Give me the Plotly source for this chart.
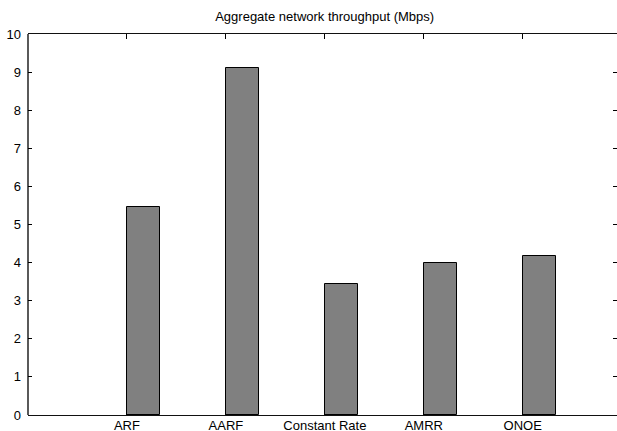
import plotly.graph_objects as go

categories = ["ARF", "AARF", "Constant Rate", "AMRR", "ONOE"]
throughput = [5.47, 9.10, 3.43, 4.00, 4.17]
positions = [1, 2, 3, 4, 5]
y_ticks = [0, 1, 2, 3, 4, 5, 6, 7, 8, 9, 10]

fig = go.Figure()
fig.add_trace(go.Bar(
    x=positions, y=throughput, width=0.337, offset=0,
    marker=dict(color="#808080", line=dict(color="#000000", width=1)),
    showlegend=False,
))

font = dict(family="Liberation Sans, Arial, Helvetica, sans-serif", size=13, color="#000000")

fig.update_layout(
    width=617, height=431,
    margin=dict(l=28, r=0, t=34, b=16, autoexpand=False),
    paper_bgcolor="white", plot_bgcolor="white",
    font=font,
    title=dict(text="Aggregate network throughput (Mbps)", x=324.7 / 617, xref="container",
               xanchor="center", y=1 - 16 / 431, yref="container", yanchor="middle",
               font=dict(family=font["family"], size=13, color="#000")),
    bargap=0,
)

fig.update_xaxes(
    range=[0, 5.953], tickvals=positions, ticktext=categories,
    showline=True, linecolor="#111", linewidth=1.3, mirror="ticks",
    ticks="inside", ticklen=5, tickcolor="#000", tickwidth=1,
    showgrid=False, zeroline=False, automargin=False,
    tickfont=font, ticklabelstandoff=-2,
)
fig.update_yaxes(
    range=[0, 10], tickvals=y_ticks,
    showline=False, mirror="ticks",
    ticks="inside", ticklen=4, tickcolor="#000", tickwidth=1,
    showgrid=False, zeroline=False, automargin=False,
    tickfont=font, ticklabelstandoff=6,
)
fig.add_shape(type="line", xref="paper", yref="paper", x0=0, x1=0, y0=0, y1=1,
              line=dict(color="#000", width=1.3))

post = ("document.documentElement.style.overflow='hidden';"
        "document.documentElement.style.margin='0';"
        "document.body.style.margin='0';"
        "document.body.style.overflow='hidden';")
fig.write_html("out.html", config={"displayModeBar": False}, post_script=post)
